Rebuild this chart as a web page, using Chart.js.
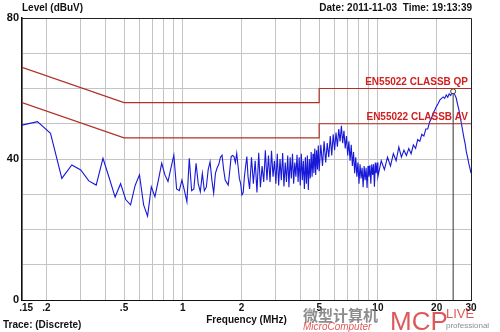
<!DOCTYPE html>
<html>
<head>
<meta charset="utf-8">
<script src="https://cdn.jsdelivr.net/npm/chart.js@4.4.0/dist/chart.umd.min.js"></script>
<style>
  body { margin: 0; background: #fff; }
  canvas { display: block; }
</style>
</head>
<body>
<canvas id="chart" width="500" height="332"></canvas>
<script>
// axis ticks
var xTickValues = [0.15, 0.2, 0.3, 0.4, 0.5, 0.6, 0.7, 0.8, 0.9, 1, 2, 3, 4, 5, 6, 7, 8, 9, 10, 20, 30];
var xTickLabels = ["   .15", ".2", "", "", ".5", "", "", "", "", "1", "2", "", "", "5", "", "", "", "", "10", "20", "30"];
var yTickLabels = {0: "0", 40: "40", 80: "80"};

// limit lines (EN55022 class B)
var limitFreq = [0.15, 0.5, 5, 5, 30];
var qpLevel = [66, 56, 56, 60, 60];
var avLevel = [56, 46, 46, 50, 50];

// marker at the peak
var markerFreq = 24.3;
var markerLevel = 59.2;

// measured trace, MHz / dBuV
var traceFreq = [
  0.15, 0.18, 0.21, 0.24, 0.27, 0.30, 0.33, 0.36, 0.39, 0.42, 0.45, 0.48, 0.51, 0.54, 0.57, 0.60,
  0.63, 0.66, 0.69, 0.72, 0.75, 0.78, 0.81, 0.84, 0.87, 0.90, 0.93, 0.96, 0.99, 1.02, 1.05, 1.08,
  1.11, 1.14, 1.17, 1.20, 1.23, 1.26, 1.29, 1.32, 1.35, 1.38, 1.41, 1.44, 1.47, 1.50, 1.53, 1.56,
  1.59, 1.62, 1.65, 1.68, 1.71, 1.74, 1.77, 1.80, 1.83, 1.86, 1.89, 1.92, 1.95, 1.98, 2.01, 2.04,
  2.07, 2.10, 2.13, 2.16,
  2.20, 2.25, 2.30, 2.35, 2.40, 2.45, 2.50, 2.55, 2.60, 2.65, 2.70, 2.75, 2.80, 2.85, 2.90, 2.95,
  3.00, 3.05, 3.10, 3.15, 3.20, 3.25, 3.30, 3.35, 3.40, 3.45, 3.50, 3.55, 3.60, 3.65, 3.70, 3.75,
  3.80, 3.85, 3.90, 3.95, 4.00, 4.05, 4.10, 4.15, 4.20, 4.25, 4.30, 4.35, 4.40, 4.45, 4.50, 4.55,
  4.60, 4.65, 4.70, 4.75, 4.80, 4.85, 4.90, 4.95, 5.00,
  5.1, 5.2, 5.3, 5.4, 5.5, 5.6, 5.7, 5.8, 5.9, 6.0, 6.1, 6.2, 6.3, 6.4, 6.5, 6.6, 6.7, 6.8, 6.9, 7.0,
  7.1, 7.2, 7.3, 7.4, 7.5, 7.6, 7.7, 7.8, 7.9, 8.0, 8.1, 8.2, 8.3, 8.4, 8.5, 8.6, 8.7, 8.8, 8.9, 9.0,
  9.1, 9.2, 9.3, 9.4, 9.5, 9.6, 9.7, 9.8, 9.9, 10.0,
  10.4, 10.8, 11.2, 11.6, 12.0, 12.4, 12.8, 13.2, 13.6, 14.0, 14.4, 14.8, 15.2, 15.6, 16.0, 16.4,
  16.8, 17.2, 17.6, 18.0, 18.4, 18.8, 19.2, 19.6, 20.0, 20.4, 20.8, 21.2, 21.6, 22.0, 22.4, 22.8,
  23.2, 23.6, 24.0, 24.4, 24.8, 25.2, 25.6, 26.0, 26.4, 26.8, 27.2, 27.6, 28.0, 28.4, 28.8, 29.2,
  29.6, 30.0
];
var traceLevel = [
  49.6, 50.6, 47.3, 34.5, 38.3, 36.9, 33.8, 32.6, 40.2, 34.6, 29.2, 33.0, 28.5, 27.0, 32.5, 35.5,
  27.0, 23.8, 32.1, 29.3, 34.0, 38.8, 35.5, 33.6, 37.5, 41.1, 31.5, 31.0, 34.0, 31.0, 27.9, 40.2,
  31.0, 31.5, 38.8, 33.0, 30.7, 35.9, 31.0, 32.0, 37.0, 39.2, 34.0, 30.3, 35.9, 37.5, 38.5, 40.5,
  41.1, 37.0, 34.0, 33.3, 32.6, 36.5, 40.7, 41.0, 40.7, 39.0, 41.6, 38.0, 34.5, 33.0, 29.8, 30.5,
  35.0, 38.0, 40.7, 35.0,
  31.5, 40.5, 33.0, 39.5, 30.5, 41.8, 32.0, 38.0, 33.5, 42.5, 34.0, 41.0, 33.5, 42.3, 35.0, 39.5,
  33.0, 41.5, 32.5, 40.0, 34.0, 41.7, 32.2, 39.0, 33.5, 41.0, 32.0, 40.5, 34.5, 41.5, 33.0, 39.0,
  35.0, 41.2, 33.5, 40.5, 32.5, 41.5, 34.0, 39.5, 31.5, 40.5, 33.0, 41.0, 31.2, 40.0, 34.5, 42.0,
  35.0, 41.5, 36.0, 43.0, 35.5, 42.5, 37.0, 43.8, 36.5,
  44.0, 38.0, 45.0, 39.0, 44.5, 40.5, 46.5, 41.0, 47.0, 42.5, 47.5, 43.5, 48.5, 45.0, 49.4, 44.5, 48.0, 43.0, 46.5, 41.0,
  45.0, 39.5, 44.0, 38.0, 42.0, 36.0, 40.5, 35.0, 39.0, 33.0, 38.5, 34.5, 37.5, 32.0, 38.0, 34.0, 37.5, 31.8, 38.0, 35.0,
  38.2, 33.0, 38.5, 35.5, 38.5, 32.1, 39.0, 36.0, 39.0, 35.0,
  39.5, 37.0, 40.5, 38.0, 41.5, 39.5, 43.4, 40.5, 42.5, 41.0, 43.0, 41.5, 44.0, 43.0, 45.5, 45.0,
  47.0, 46.5, 48.5, 48.5, 50.5, 51.5, 53.0, 54.0, 55.0, 55.8, 56.8, 57.2, 57.6, 57.2, 58.2, 57.5,
  58.5, 58.0, 58.8, 59.1, 58.2, 57.3, 55.5, 54.0, 52.0, 50.0, 48.0, 46.0, 44.3, 42.0, 40.5, 38.8,
  37.5, 36.0
];

function toPoints(xs, ys) {
  var pts = [];
  for (var i = 0; i < xs.length; i++) {
    pts.push({x: xs[i], y: ys[i]});
  }
  return pts;
}

var limitRed = "#b03028";
var textFont = "bold 10px 'Liberation Sans', Arial, sans-serif";

// frame, header texts, limit captions, watermark
var decorations = {
  id: "decorations",
  beforeDatasetsDraw: function(chart) {
    var ctx = chart.ctx;
    var a = chart.chartArea;
    ctx.save();
    ctx.strokeStyle = "#222";
    ctx.lineWidth = 1;
    ctx.beginPath();
    ctx.moveTo(a.left, a.top + 0.5);
    ctx.lineTo(a.right + 0.5, a.top + 0.5);
    ctx.lineTo(a.right + 0.5, a.bottom);
    ctx.stroke();
    ctx.restore();
  },
  afterDraw: function(chart) {
    var ctx = chart.ctx;
    var y = chart.scales.y;
    var a = chart.chartArea;
    ctx.save();
    ctx.fillStyle = "#111";
    ctx.font = textFont;
    ctx.textBaseline = "middle";
    ctx.textAlign = "left";
    ctx.fillText("Level (dBuV)", 22, 8);
    ctx.fillText("Trace: (Discrete)", 3, 325);
    ctx.textAlign = "right";
    ctx.fillText("Date: 2011-11-03  Time: 19:13:39", 472, 8);

    ctx.fillStyle = "#d02020";
    ctx.textBaseline = "alphabetic";
    ctx.fillText("EN55022 CLASSB QP", a.right - 3, y.getPixelForValue(60) - 4);
    ctx.fillText("EN55022 CLASSB AV", a.right - 3, y.getPixelForValue(50) - 4);

    // watermark
    ctx.textAlign = "left";
    ctx.fillStyle = "rgba(120,120,120,0.85)";
    ctx.font = "bold 15px 'Noto Sans CJK SC', sans-serif";
    ctx.fillText("微型计算机", 303, 321);
    ctx.fillStyle = "rgba(215,60,60,0.85)";
    ctx.font = "italic 10px 'Liberation Sans', sans-serif";
    ctx.fillText("MicroComputer", 303, 330);
    ctx.font = "26px 'Liberation Sans', sans-serif";
    ctx.fillText("MCP", 390, 330);
    ctx.font = "13px 'Liberation Sans', sans-serif";
    ctx.fillText("LIVE", 446, 318);
    ctx.fillStyle = "rgba(120,120,120,0.85)";
    ctx.font = "8px 'Liberation Sans', sans-serif";
    ctx.fillText("professional", 446, 328);
    ctx.restore();
  }
};

var ctx = document.getElementById("chart").getContext("2d");
var chart = new Chart(ctx, {
  type: "line",
  data: {
    datasets: [{
      label: "QP",
      data: toPoints(limitFreq, qpLevel),
      borderColor: limitRed,
      borderWidth: 1.2,
      pointRadius: 0
    }, {
      label: "AV",
      data: toPoints(limitFreq, avLevel),
      borderColor: limitRed,
      borderWidth: 1.2,
      pointRadius: 0
    }, {
      label: "Marker",
      data: [{x: markerFreq, y: 0}, {x: markerFreq, y: markerLevel}],
      borderColor: "#333",
      borderWidth: 1,
      pointRadius: [0, 2.5],
      pointBackgroundColor: "#fff",
      pointBorderColor: "#333",
      pointBorderWidth: 1
    }, {
      label: "Trace",
      data: toPoints(traceFreq, traceLevel),
      borderColor: "#1818d8",
      borderWidth: 1.1,
      pointRadius: 0,
      tension: 0
    }]
  },
  options: {
    responsive: false,
    animation: false,
    layout: { padding: { top: 18, right: 29, left: 0, bottom: 0 } },
    plugins: {
      legend: { display: false },
      tooltip: { enabled: false }
    },
    scales: {
      x: {
        type: "logarithmic",
        min: 0.15,
        max: 30,
        afterBuildTicks: function(scale) {
          scale.ticks = xTickValues.map(function(v) { return {value: v}; });
        },
        afterFit: function(scale) { scale.height = 32; },
        ticks: {
          autoSkip: false,
          maxRotation: 0,
          padding: 2,
          color: "#111",
          font: { family: "'Liberation Sans', Arial, sans-serif", size: 10, weight: "bold" },
          callback: function(value, index) { return xTickLabels[index]; }
        },
        grid: { color: "#c4c4c4", drawTicks: false },
        border: { color: "#111", width: 1 },
        title: {
          display: true,
          text: "Frequency (MHz)",
          color: "#111",
          padding: { top: 0, bottom: 6 },
          font: { family: "'Liberation Sans', Arial, sans-serif", size: 10, weight: "bold" }
        }
      },
      y: {
        min: 0,
        max: 80,
        afterFit: function(scale) { scale.width = 22; },
        ticks: {
          stepSize: 10,
          padding: 3,
          color: "#111",
          font: { family: "'Liberation Sans', Arial, sans-serif", size: 11, weight: "bold" },
          callback: function(value) { return yTickLabels[value] || ""; }
        },
        grid: { color: "#c4c4c4", drawTicks: false },
        border: { color: "#111", width: 1.5 }
      }
    }
  },
  plugins: [decorations]
});
</script>
</body>
</html>
